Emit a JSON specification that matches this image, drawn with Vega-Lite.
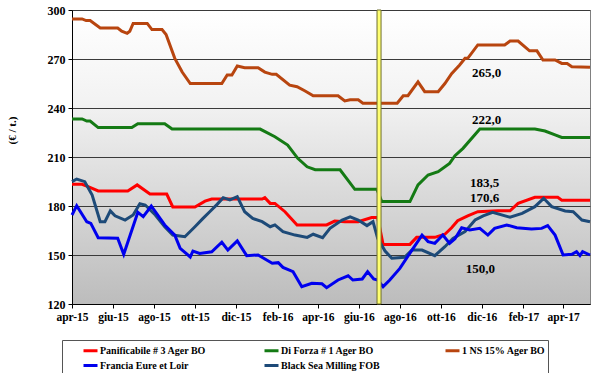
{
  "$schema": "https://vega.github.io/schema/vega-lite/v6.json",
  "width": 518,
  "height": 294,
  "autosize": {"type": "none"},
  "padding": {"left": 72, "top": 10, "right": 10, "bottom": 69},
  "view": {
    "fill": {"gradient": "linear", "x1": 0, "y1": 0, "x2": 0, "y2": 1,
      "stops": [{"offset": 0, "color": "#ffffff"}, {"offset": 0.3, "color": "#f3f3f3"}, {"offset": 1, "color": "#bcbcbc"}]},
    "stroke": "#808080",
    "strokeWidth": 1
  },
  "datasets": {
    "series": [
      {"s": "1 NS 15% Ager BO", "d": "2015-04-01", "v": 294.5},
      {"s": "1 NS 15% Ager BO", "d": "2015-04-16", "v": 294.5},
      {"s": "1 NS 15% Ager BO", "d": "2015-04-22", "v": 293.5},
      {"s": "1 NS 15% Ager BO", "d": "2015-04-28", "v": 293.5},
      {"s": "1 NS 15% Ager BO", "d": "2015-05-13", "v": 289},
      {"s": "1 NS 15% Ager BO", "d": "2015-06-08", "v": 289},
      {"s": "1 NS 15% Ager BO", "d": "2015-06-14", "v": 287},
      {"s": "1 NS 15% Ager BO", "d": "2015-06-22", "v": 285.7},
      {"s": "1 NS 15% Ager BO", "d": "2015-06-26", "v": 287},
      {"s": "1 NS 15% Ager BO", "d": "2015-07-01", "v": 291.8},
      {"s": "1 NS 15% Ager BO", "d": "2015-07-22", "v": 291.8},
      {"s": "1 NS 15% Ager BO", "d": "2015-07-29", "v": 288},
      {"s": "1 NS 15% Ager BO", "d": "2015-08-13", "v": 288},
      {"s": "1 NS 15% Ager BO", "d": "2015-08-19", "v": 285},
      {"s": "1 NS 15% Ager BO", "d": "2015-09-01", "v": 270.4},
      {"s": "1 NS 15% Ager BO", "d": "2015-09-12", "v": 262},
      {"s": "1 NS 15% Ager BO", "d": "2015-09-24", "v": 255},
      {"s": "1 NS 15% Ager BO", "d": "2015-11-10", "v": 255},
      {"s": "1 NS 15% Ager BO", "d": "2015-11-18", "v": 260.2},
      {"s": "1 NS 15% Ager BO", "d": "2015-11-25", "v": 260.2},
      {"s": "1 NS 15% Ager BO", "d": "2015-12-03", "v": 265.7},
      {"s": "1 NS 15% Ager BO", "d": "2015-12-14", "v": 264.7},
      {"s": "1 NS 15% Ager BO", "d": "2016-01-03", "v": 264.7},
      {"s": "1 NS 15% Ager BO", "d": "2016-01-13", "v": 262},
      {"s": "1 NS 15% Ager BO", "d": "2016-01-24", "v": 260.6},
      {"s": "1 NS 15% Ager BO", "d": "2016-01-30", "v": 260.6},
      {"s": "1 NS 15% Ager BO", "d": "2016-02-19", "v": 254},
      {"s": "1 NS 15% Ager BO", "d": "2016-03-01", "v": 253},
      {"s": "1 NS 15% Ager BO", "d": "2016-03-13", "v": 250.4},
      {"s": "1 NS 15% Ager BO", "d": "2016-03-25", "v": 247.5},
      {"s": "1 NS 15% Ager BO", "d": "2016-05-01", "v": 247.5},
      {"s": "1 NS 15% Ager BO", "d": "2016-05-11", "v": 244.3},
      {"s": "1 NS 15% Ager BO", "d": "2016-05-19", "v": 245},
      {"s": "1 NS 15% Ager BO", "d": "2016-05-31", "v": 245},
      {"s": "1 NS 15% Ager BO", "d": "2016-06-07", "v": 242.9},
      {"s": "1 NS 15% Ager BO", "d": "2016-07-28", "v": 242.9},
      {"s": "1 NS 15% Ager BO", "d": "2016-08-06", "v": 247.5},
      {"s": "1 NS 15% Ager BO", "d": "2016-08-13", "v": 247.5},
      {"s": "1 NS 15% Ager BO", "d": "2016-08-28", "v": 256},
      {"s": "1 NS 15% Ager BO", "d": "2016-09-07", "v": 250},
      {"s": "1 NS 15% Ager BO", "d": "2016-09-27", "v": 250},
      {"s": "1 NS 15% Ager BO", "d": "2016-10-07", "v": 255},
      {"s": "1 NS 15% Ager BO", "d": "2016-10-17", "v": 261},
      {"s": "1 NS 15% Ager BO", "d": "2016-10-29", "v": 266.3},
      {"s": "1 NS 15% Ager BO", "d": "2016-11-06", "v": 270.4},
      {"s": "1 NS 15% Ager BO", "d": "2016-11-10", "v": 270.4},
      {"s": "1 NS 15% Ager BO", "d": "2016-11-25", "v": 278.6},
      {"s": "1 NS 15% Ager BO", "d": "2017-01-04", "v": 278.6},
      {"s": "1 NS 15% Ager BO", "d": "2017-01-12", "v": 281},
      {"s": "1 NS 15% Ager BO", "d": "2017-01-24", "v": 281},
      {"s": "1 NS 15% Ager BO", "d": "2017-02-10", "v": 275},
      {"s": "1 NS 15% Ager BO", "d": "2017-02-21", "v": 275},
      {"s": "1 NS 15% Ager BO", "d": "2017-03-02", "v": 269.4},
      {"s": "1 NS 15% Ager BO", "d": "2017-03-20", "v": 269.4},
      {"s": "1 NS 15% Ager BO", "d": "2017-03-30", "v": 267.3},
      {"s": "1 NS 15% Ager BO", "d": "2017-04-07", "v": 267.3},
      {"s": "1 NS 15% Ager BO", "d": "2017-04-14", "v": 265.3},
      {"s": "1 NS 15% Ager BO", "d": "2017-05-11", "v": 265},

      {"s": "Di Forza # 1 Ager BO", "d": "2015-04-01", "v": 233.3},
      {"s": "Di Forza # 1 Ager BO", "d": "2015-04-16", "v": 233.3},
      {"s": "Di Forza # 1 Ager BO", "d": "2015-04-23", "v": 232},
      {"s": "Di Forza # 1 Ager BO", "d": "2015-04-28", "v": 232},
      {"s": "Di Forza # 1 Ager BO", "d": "2015-05-10", "v": 228},
      {"s": "Di Forza # 1 Ager BO", "d": "2015-06-29", "v": 228},
      {"s": "Di Forza # 1 Ager BO", "d": "2015-07-08", "v": 230.4},
      {"s": "Di Forza # 1 Ager BO", "d": "2015-08-17", "v": 230.4},
      {"s": "Di Forza # 1 Ager BO", "d": "2015-08-28", "v": 227.1},
      {"s": "Di Forza # 1 Ager BO", "d": "2016-01-06", "v": 227.1},
      {"s": "Di Forza # 1 Ager BO", "d": "2016-01-28", "v": 222.4},
      {"s": "Di Forza # 1 Ager BO", "d": "2016-02-16", "v": 217.3},
      {"s": "Di Forza # 1 Ager BO", "d": "2016-03-02", "v": 209.2},
      {"s": "Di Forza # 1 Ager BO", "d": "2016-03-16", "v": 204},
      {"s": "Di Forza # 1 Ager BO", "d": "2016-03-28", "v": 202.2},
      {"s": "Di Forza # 1 Ager BO", "d": "2016-05-04", "v": 202.2},
      {"s": "Di Forza # 1 Ager BO", "d": "2016-05-26", "v": 190.2},
      {"s": "Di Forza # 1 Ager BO", "d": "2016-06-28", "v": 190.2},
      {"s": "Di Forza # 1 Ager BO", "d": "2016-07-05", "v": 182.7},
      {"s": "Di Forza # 1 Ager BO", "d": "2016-08-16", "v": 182.7},
      {"s": "Di Forza # 1 Ager BO", "d": "2016-08-28", "v": 192.9},
      {"s": "Di Forza # 1 Ager BO", "d": "2016-09-12", "v": 199},
      {"s": "Di Forza # 1 Ager BO", "d": "2016-09-27", "v": 201},
      {"s": "Di Forza # 1 Ager BO", "d": "2016-10-14", "v": 206.1},
      {"s": "Di Forza # 1 Ager BO", "d": "2016-10-22", "v": 210.8},
      {"s": "Di Forza # 1 Ager BO", "d": "2016-11-03", "v": 215.3},
      {"s": "Di Forza # 1 Ager BO", "d": "2016-11-28", "v": 227.1},
      {"s": "Di Forza # 1 Ager BO", "d": "2017-02-18", "v": 227.1},
      {"s": "Di Forza # 1 Ager BO", "d": "2017-03-05", "v": 225.9},
      {"s": "Di Forza # 1 Ager BO", "d": "2017-03-20", "v": 223.5},
      {"s": "Di Forza # 1 Ager BO", "d": "2017-03-30", "v": 222},
      {"s": "Di Forza # 1 Ager BO", "d": "2017-05-11", "v": 222},

      {"s": "Panificabile # 3 Ager BO", "d": "2015-04-01", "v": 193.3},
      {"s": "Panificabile # 3 Ager BO", "d": "2015-04-16", "v": 193.3},
      {"s": "Panificabile # 3 Ager BO", "d": "2015-04-25", "v": 191.8},
      {"s": "Panificabile # 3 Ager BO", "d": "2015-05-10", "v": 189.2},
      {"s": "Panificabile # 3 Ager BO", "d": "2015-06-23", "v": 189.2},
      {"s": "Panificabile # 3 Ager BO", "d": "2015-07-07", "v": 192.9},
      {"s": "Panificabile # 3 Ager BO", "d": "2015-07-26", "v": 187.3},
      {"s": "Panificabile # 3 Ager BO", "d": "2015-08-20", "v": 187.3},
      {"s": "Panificabile # 3 Ager BO", "d": "2015-08-29", "v": 179.4},
      {"s": "Panificabile # 3 Ager BO", "d": "2015-10-01", "v": 179.4},
      {"s": "Panificabile # 3 Ager BO", "d": "2015-10-16", "v": 183},
      {"s": "Panificabile # 3 Ager BO", "d": "2015-10-26", "v": 184.3},
      {"s": "Panificabile # 3 Ager BO", "d": "2016-01-09", "v": 184.3},
      {"s": "Panificabile # 3 Ager BO", "d": "2016-01-13", "v": 185.1},
      {"s": "Panificabile # 3 Ager BO", "d": "2016-01-21", "v": 181.6},
      {"s": "Panificabile # 3 Ager BO", "d": "2016-01-28", "v": 181.6},
      {"s": "Panificabile # 3 Ager BO", "d": "2016-02-12", "v": 176.5},
      {"s": "Panificabile # 3 Ager BO", "d": "2016-03-01", "v": 168.4},
      {"s": "Panificabile # 3 Ager BO", "d": "2016-04-14", "v": 168.4},
      {"s": "Panificabile # 3 Ager BO", "d": "2016-04-26", "v": 170.8},
      {"s": "Panificabile # 3 Ager BO", "d": "2016-05-11", "v": 170.4},
      {"s": "Panificabile # 3 Ager BO", "d": "2016-05-31", "v": 170.4},
      {"s": "Panificabile # 3 Ager BO", "d": "2016-06-20", "v": 172.9},
      {"s": "Panificabile # 3 Ager BO", "d": "2016-06-29", "v": 172.9},
      {"s": "Panificabile # 3 Ager BO", "d": "2016-07-07", "v": 156.5},
      {"s": "Panificabile # 3 Ager BO", "d": "2016-08-16", "v": 156.5},
      {"s": "Panificabile # 3 Ager BO", "d": "2016-08-26", "v": 160.8},
      {"s": "Panificabile # 3 Ager BO", "d": "2016-09-22", "v": 160.8},
      {"s": "Panificabile # 3 Ager BO", "d": "2016-10-07", "v": 162.7},
      {"s": "Panificabile # 3 Ager BO", "d": "2016-10-17", "v": 166.7},
      {"s": "Panificabile # 3 Ager BO", "d": "2016-10-26", "v": 171},
      {"s": "Panificabile # 3 Ager BO", "d": "2016-11-10", "v": 174},
      {"s": "Panificabile # 3 Ager BO", "d": "2016-11-25", "v": 176.5},
      {"s": "Panificabile # 3 Ager BO", "d": "2016-12-25", "v": 177.1},
      {"s": "Panificabile # 3 Ager BO", "d": "2017-01-12", "v": 177.1},
      {"s": "Panificabile # 3 Ager BO", "d": "2017-01-24", "v": 181.6},
      {"s": "Panificabile # 3 Ager BO", "d": "2017-02-18", "v": 185.3},
      {"s": "Panificabile # 3 Ager BO", "d": "2017-03-24", "v": 185.3},
      {"s": "Panificabile # 3 Ager BO", "d": "2017-03-30", "v": 183.5},
      {"s": "Panificabile # 3 Ager BO", "d": "2017-05-11", "v": 183.5},

      {"s": "Black Sea Milling FOB", "d": "2015-04-01", "v": 194.9},
      {"s": "Black Sea Milling FOB", "d": "2015-04-08", "v": 196.5},
      {"s": "Black Sea Milling FOB", "d": "2015-04-20", "v": 194.9},
      {"s": "Black Sea Milling FOB", "d": "2015-05-01", "v": 186.7},
      {"s": "Black Sea Milling FOB", "d": "2015-05-13", "v": 170.4},
      {"s": "Black Sea Milling FOB", "d": "2015-05-20", "v": 170.4},
      {"s": "Black Sea Milling FOB", "d": "2015-05-28", "v": 177},
      {"s": "Black Sea Milling FOB", "d": "2015-06-04", "v": 174},
      {"s": "Black Sea Milling FOB", "d": "2015-06-19", "v": 171.4},
      {"s": "Black Sea Milling FOB", "d": "2015-07-01", "v": 174.5},
      {"s": "Black Sea Milling FOB", "d": "2015-07-11", "v": 181.4},
      {"s": "Black Sea Milling FOB", "d": "2015-07-19", "v": 180.6},
      {"s": "Black Sea Milling FOB", "d": "2015-08-03", "v": 174.5},
      {"s": "Black Sea Milling FOB", "d": "2015-08-17", "v": 167.3},
      {"s": "Black Sea Milling FOB", "d": "2015-08-29", "v": 162.2},
      {"s": "Black Sea Milling FOB", "d": "2015-09-16", "v": 161.2},
      {"s": "Black Sea Milling FOB", "d": "2015-10-01", "v": 167.3},
      {"s": "Black Sea Milling FOB", "d": "2015-10-13", "v": 172.4},
      {"s": "Black Sea Milling FOB", "d": "2015-10-23", "v": 176.5},
      {"s": "Black Sea Milling FOB", "d": "2015-11-03", "v": 181},
      {"s": "Black Sea Milling FOB", "d": "2015-11-12", "v": 185.1},
      {"s": "Black Sea Milling FOB", "d": "2015-11-22", "v": 183.7},
      {"s": "Black Sea Milling FOB", "d": "2015-12-03", "v": 185.7},
      {"s": "Black Sea Milling FOB", "d": "2015-12-14", "v": 176.5},
      {"s": "Black Sea Milling FOB", "d": "2015-12-26", "v": 172.4},
      {"s": "Black Sea Milling FOB", "d": "2016-01-09", "v": 170.4},
      {"s": "Black Sea Milling FOB", "d": "2016-01-21", "v": 167.3},
      {"s": "Black Sea Milling FOB", "d": "2016-01-28", "v": 168.4},
      {"s": "Black Sea Milling FOB", "d": "2016-02-09", "v": 164.3},
      {"s": "Black Sea Milling FOB", "d": "2016-02-27", "v": 162.2},
      {"s": "Black Sea Milling FOB", "d": "2016-03-16", "v": 160.8},
      {"s": "Black Sea Milling FOB", "d": "2016-03-25", "v": 162.7},
      {"s": "Black Sea Milling FOB", "d": "2016-04-08", "v": 160.6},
      {"s": "Black Sea Milling FOB", "d": "2016-04-19", "v": 166.3},
      {"s": "Black Sea Milling FOB", "d": "2016-05-07", "v": 171.4},
      {"s": "Black Sea Milling FOB", "d": "2016-05-19", "v": 173.3},
      {"s": "Black Sea Milling FOB", "d": "2016-05-31", "v": 171.4},
      {"s": "Black Sea Milling FOB", "d": "2016-06-13", "v": 168},
      {"s": "Black Sea Milling FOB", "d": "2016-06-22", "v": 170.4},
      {"s": "Black Sea Milling FOB", "d": "2016-06-29", "v": 160.2},
      {"s": "Black Sea Milling FOB", "d": "2016-07-10", "v": 152.4},
      {"s": "Black Sea Milling FOB", "d": "2016-07-20", "v": 148},
      {"s": "Black Sea Milling FOB", "d": "2016-08-08", "v": 148.6},
      {"s": "Black Sea Milling FOB", "d": "2016-08-19", "v": 153},
      {"s": "Black Sea Milling FOB", "d": "2016-09-03", "v": 153},
      {"s": "Black Sea Milling FOB", "d": "2016-09-22", "v": 149.6},
      {"s": "Black Sea Milling FOB", "d": "2016-10-07", "v": 155.1},
      {"s": "Black Sea Milling FOB", "d": "2016-10-19", "v": 160.2},
      {"s": "Black Sea Milling FOB", "d": "2016-11-06", "v": 164.3},
      {"s": "Black Sea Milling FOB", "d": "2016-11-21", "v": 171.4},
      {"s": "Black Sea Milling FOB", "d": "2016-12-03", "v": 174},
      {"s": "Black Sea Milling FOB", "d": "2016-12-17", "v": 176.1},
      {"s": "Black Sea Milling FOB", "d": "2017-01-12", "v": 173.1},
      {"s": "Black Sea Milling FOB", "d": "2017-01-30", "v": 175.5},
      {"s": "Black Sea Milling FOB", "d": "2017-02-18", "v": 179.6},
      {"s": "Black Sea Milling FOB", "d": "2017-03-03", "v": 184.7},
      {"s": "Black Sea Milling FOB", "d": "2017-03-15", "v": 179.6},
      {"s": "Black Sea Milling FOB", "d": "2017-04-04", "v": 177},
      {"s": "Black Sea Milling FOB", "d": "2017-04-16", "v": 176.5},
      {"s": "Black Sea Milling FOB", "d": "2017-04-29", "v": 171.4},
      {"s": "Black Sea Milling FOB", "d": "2017-05-11", "v": 170.4},

      {"s": "Francia Eure et Loir", "d": "2015-04-01", "v": 174.5},
      {"s": "Francia Eure et Loir", "d": "2015-04-08", "v": 180.2},
      {"s": "Francia Eure et Loir", "d": "2015-04-23", "v": 170.4},
      {"s": "Francia Eure et Loir", "d": "2015-04-29", "v": 169.4},
      {"s": "Francia Eure et Loir", "d": "2015-05-10", "v": 160.6},
      {"s": "Francia Eure et Loir", "d": "2015-06-08", "v": 160.2},
      {"s": "Francia Eure et Loir", "d": "2015-06-17", "v": 150.4},
      {"s": "Francia Eure et Loir", "d": "2015-07-08", "v": 176.1},
      {"s": "Francia Eure et Loir", "d": "2015-07-16", "v": 173.5},
      {"s": "Francia Eure et Loir", "d": "2015-07-28", "v": 180},
      {"s": "Francia Eure et Loir", "d": "2015-08-17", "v": 168.4},
      {"s": "Francia Eure et Loir", "d": "2015-09-01", "v": 162.2},
      {"s": "Francia Eure et Loir", "d": "2015-09-09", "v": 154.1},
      {"s": "Francia Eure et Loir", "d": "2015-09-24", "v": 148.8},
      {"s": "Francia Eure et Loir", "d": "2015-09-28", "v": 152.4},
      {"s": "Francia Eure et Loir", "d": "2015-10-08", "v": 151},
      {"s": "Francia Eure et Loir", "d": "2015-10-26", "v": 152},
      {"s": "Francia Eure et Loir", "d": "2015-11-10", "v": 157.8},
      {"s": "Francia Eure et Loir", "d": "2015-11-19", "v": 153},
      {"s": "Francia Eure et Loir", "d": "2015-12-03", "v": 158.6},
      {"s": "Francia Eure et Loir", "d": "2015-12-17", "v": 149.6},
      {"s": "Francia Eure et Loir", "d": "2016-01-03", "v": 150},
      {"s": "Francia Eure et Loir", "d": "2016-01-24", "v": 144.9},
      {"s": "Francia Eure et Loir", "d": "2016-02-02", "v": 145.3},
      {"s": "Francia Eure et Loir", "d": "2016-02-09", "v": 142.4},
      {"s": "Francia Eure et Loir", "d": "2016-02-24", "v": 139.8},
      {"s": "Francia Eure et Loir", "d": "2016-03-08", "v": 130.6},
      {"s": "Francia Eure et Loir", "d": "2016-03-23", "v": 132.7},
      {"s": "Francia Eure et Loir", "d": "2016-04-07", "v": 132.4},
      {"s": "Francia Eure et Loir", "d": "2016-04-14", "v": 130},
      {"s": "Francia Eure et Loir", "d": "2016-05-01", "v": 134.7},
      {"s": "Francia Eure et Loir", "d": "2016-05-16", "v": 137.3},
      {"s": "Francia Eure et Loir", "d": "2016-05-23", "v": 134.7},
      {"s": "Francia Eure et Loir", "d": "2016-06-06", "v": 135.3},
      {"s": "Francia Eure et Loir", "d": "2016-06-14", "v": 139.8},
      {"s": "Francia Eure et Loir", "d": "2016-06-23", "v": 135.3},
      {"s": "Francia Eure et Loir", "d": "2016-06-29", "v": 134.7},
      {"s": "Francia Eure et Loir", "d": "2016-07-07", "v": 130.6},
      {"s": "Francia Eure et Loir", "d": "2016-07-17", "v": 134.7},
      {"s": "Francia Eure et Loir", "d": "2016-08-01", "v": 141.8},
      {"s": "Francia Eure et Loir", "d": "2016-08-19", "v": 153},
      {"s": "Francia Eure et Loir", "d": "2016-09-03", "v": 162.2},
      {"s": "Francia Eure et Loir", "d": "2016-09-12", "v": 158.2},
      {"s": "Francia Eure et Loir", "d": "2016-09-22", "v": 157.1},
      {"s": "Francia Eure et Loir", "d": "2016-10-04", "v": 162.2},
      {"s": "Francia Eure et Loir", "d": "2016-10-14", "v": 157.1},
      {"s": "Francia Eure et Loir", "d": "2016-10-22", "v": 160},
      {"s": "Francia Eure et Loir", "d": "2016-11-01", "v": 166.7},
      {"s": "Francia Eure et Loir", "d": "2016-11-13", "v": 165.3},
      {"s": "Francia Eure et Loir", "d": "2016-11-28", "v": 166.3},
      {"s": "Francia Eure et Loir", "d": "2016-12-10", "v": 162.2},
      {"s": "Francia Eure et Loir", "d": "2016-12-20", "v": 166.3},
      {"s": "Francia Eure et Loir", "d": "2017-01-07", "v": 168.4},
      {"s": "Francia Eure et Loir", "d": "2017-01-22", "v": 166.7},
      {"s": "Francia Eure et Loir", "d": "2017-02-13", "v": 165.9},
      {"s": "Francia Eure et Loir", "d": "2017-02-28", "v": 166.3},
      {"s": "Francia Eure et Loir", "d": "2017-03-09", "v": 168},
      {"s": "Francia Eure et Loir", "d": "2017-03-20", "v": 162.2},
      {"s": "Francia Eure et Loir", "d": "2017-04-01", "v": 150},
      {"s": "Francia Eure et Loir", "d": "2017-04-14", "v": 150.4},
      {"s": "Francia Eure et Loir", "d": "2017-04-21", "v": 152},
      {"s": "Francia Eure et Loir", "d": "2017-04-26", "v": 149.6},
      {"s": "Francia Eure et Loir", "d": "2017-04-30", "v": 152},
      {"s": "Francia Eure et Loir", "d": "2017-05-11", "v": 150}
    ],
    "marker": [{"a": "2016-06-28", "b": "2016-07-04"}],
    "notes": [
      {"d": "2016-12-08", "v": 261.2, "t": "265,0"},
      {"d": "2016-12-08", "v": 232.7, "t": "222,0"},
      {"d": "2016-12-05", "v": 193.9, "t": "183,5"},
      {"d": "2016-12-05", "v": 185.1, "t": "170,6"},
      {"d": "2016-11-29", "v": 141.2, "t": "150,0"}
    ]
  },
  "layer": [
    {
      "data": {"name": "series"},
      "mark": {"type": "line", "strokeWidth": 3, "interpolate": "linear"},
      "encoding": {
        "x": {
          "field": "d", "type": "temporal",
          "scale": {"type": "utc", "domain": [{"year": 2015, "month": 4, "date": 1, "utc": true}, {"year": 2017, "month": 5, "date": 11, "utc": true}]},
          "axis": {
            "title": null,
            "grid": false,
            "values": [
              {"year": 2015, "month": 4, "date": 1, "utc": true},
              {"year": 2015, "month": 6, "date": 1, "utc": true},
              {"year": 2015, "month": 8, "date": 1, "utc": true},
              {"year": 2015, "month": 10, "date": 1, "utc": true},
              {"year": 2015, "month": 12, "date": 1, "utc": true},
              {"year": 2016, "month": 2, "date": 1, "utc": true},
              {"year": 2016, "month": 4, "date": 1, "utc": true},
              {"year": 2016, "month": 6, "date": 1, "utc": true},
              {"year": 2016, "month": 8, "date": 1, "utc": true},
              {"year": 2016, "month": 10, "date": 1, "utc": true},
              {"year": 2016, "month": 12, "date": 1, "utc": true},
              {"year": 2017, "month": 2, "date": 1, "utc": true},
              {"year": 2017, "month": 4, "date": 1, "utc": true}
            ],
            "labelExpr": "['gen','feb','mar','apr','mag','giu','lug','ago','set','ott','nov','dic'][utcmonth(datum.value)] + '-' + utcFormat(datum.value, '%y')",
            "labelFont": "Liberation Serif", "labelFontWeight": "bold", "labelFontSize": 11.5, "labelColor": "#000",
            "labelPadding": 3, "labelOverlap": false, "labelFlush": false,
            "tickSize": 4, "tickColor": "#000", "domainColor": "#000", "domainWidth": 1
          }
        },
        "y": {
          "field": "v", "type": "quantitative",
          "scale": {"domain": [120, 300], "nice": false, "zero": false},
          "axis": {
            "title": "(€ / t.)",
            "titleFont": "Liberation Serif", "titleFontWeight": "bold", "titleFontSize": 11, "titleColor": "#000",
            "titleX": -60, "titleY": 120, "titleAngle": -90, "titleAlign": "center", "titleBaseline": "middle",
            "values": [120, 150, 180, 210, 240, 270, 300],
            "grid": true, "gridColor": "#3a3a3a", "gridWidth": 1,
            "labelFont": "Liberation Serif", "labelFontWeight": "bold", "labelFontSize": 12, "labelColor": "#000",
            "labelPadding": 3, "tickSize": 4, "tickColor": "#000", "domainColor": "#000", "domainWidth": 1
          }
        },
        "color": {
          "field": "s", "type": "nominal",
          "scale": {
            "domain": ["Panificabile # 3 Ager BO", "Di Forza # 1 Ager BO", "1 NS 15% Ager BO", "Francia Eure et Loir", "Black Sea Milling FOB"],
            "range": ["#ff0000", "#147a14", "#b8450f", "#0000ee", "#1d4a78"]
          },
          "legend": {
            "orient": "none", "legendX": -10, "legendY": 330,
            "direction": "horizontal", "columns": 3, "gridAlign": "all",
            "columnPadding": 51, "rowPadding": 0,
            "title": "\u00a0", "titleOrient": "left", "titlePadding": 18, "titleFontSize": 4,
            "symbolType": "stroke", "symbolSize": 196, "symbolStrokeWidth": 3,
            "labelFont": "Liberation Serif", "labelFontWeight": "bold", "labelFontSize": 10, "labelColor": "#000", "labelOffset": 1,
            "labelLimit": 200,
            "strokeColor": "#555555", "padding": 2
          }
        }
      }
    },
    {
      "data": {"name": "marker"},
      "mark": {"type": "rect", "fill": "#ffff70", "stroke": "#6f6f2f", "strokeWidth": 1},
      "encoding": {
        "x": {"field": "a", "type": "temporal"},
        "x2": {"field": "b"}
      }
    },
    {
      "data": {"name": "notes"},
      "mark": {"type": "text", "font": "Liberation Serif", "fontWeight": "bold", "fontSize": 13, "color": "#000", "align": "center", "baseline": "middle"},
      "encoding": {
        "x": {"field": "d", "type": "temporal"},
        "y": {"field": "v", "type": "quantitative"},
        "text": {"field": "t"}
      }
    }
  ]
}
